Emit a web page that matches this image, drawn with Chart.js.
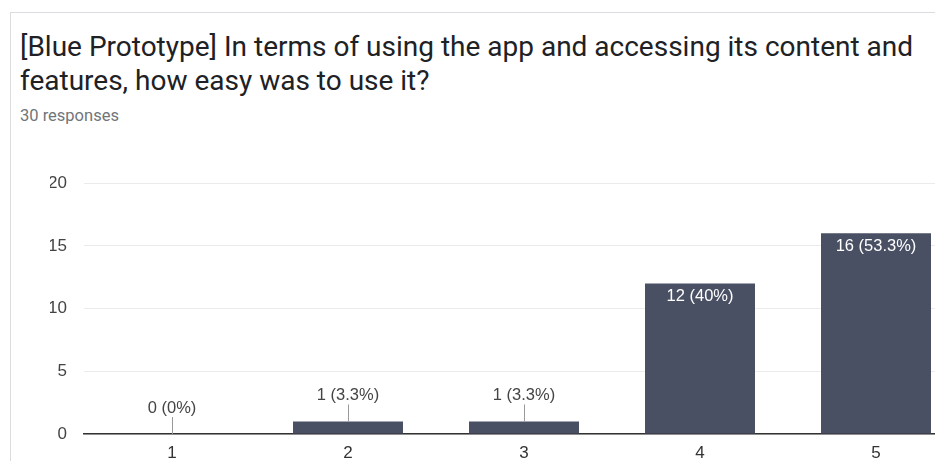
<!DOCTYPE html>
<html>
<head>
<meta charset="utf-8">
<script src="https://cdn.jsdelivr.net/npm/chart.js@4/dist/chart.umd.min.js"></script>
<style>
  html, body { margin: 0; padding: 0; width: 935px; height: 461px; overflow: hidden; background: #fff; }
  #card {
    position: absolute; left: 10px; top: 12px; width: 1000px; height: 500px;
    border-left: 1px solid #dadce0; border-top: 1px solid #dadce0; box-sizing: border-box;
  }
  #title {
    position: absolute; left: 20px; top: 30px; white-space: nowrap;
    font-family: Roboto, sans-serif; font-size: 28px; line-height: 33.5px; color: #202124;
  }
  #sub {
    position: absolute; left: 20px; top: 106px; line-height: normal;
    font-family: Roboto, sans-serif; font-size: 16.5px; color: #70757a;
  }
  #wrap { position: absolute; left: 0; top: 156px; }
</style>
</head>
<body>
<div id="card"></div>
<div id="title">[Blue Prototype] In terms of using the app and accessing its content and<br>features, how easy was to use it?</div>
<div id="sub">30 responses</div>
<div id="wrap"><canvas id="chart" width="975" height="308"></canvas></div>
<script>
var categories = ['1', '2', '3', '4', '5'];
var counts = [0, 1, 1, 12, 16];
var totalResponses = 30;
var yTicks = [0, 5, 10, 15, 20];

var barColor = '#4a5064';
var chartFont = '"Liberation Sans", Arial, sans-serif';

// count + percentage labels, inside tall bars, above short ones with a leader line
var valueLabels = {
  id: 'valueLabels',
  afterDatasetsDraw: function(chart)
  {
    var ctx = chart.ctx;
    var meta = chart.getDatasetMeta(0);
    ctx.save();
    ctx.font = '16.5px ' + chartFont;
    ctx.textAlign = 'center';
    ctx.textBaseline = 'middle';
    for (var i = 0; i < meta.data.length; i++)
    {
      var bar = meta.data[i];
      var v = counts[i];
      var p = Math.round(v * 1000 / totalResponses) / 10;
      var text = v + ' (' + p + '%)';
      var h = bar.base - bar.y;
      if (h > 30)
      {
        ctx.fillStyle = '#ffffff';
        ctx.fillText(text, bar.x, bar.y + 13);
      }
      else
      {
        ctx.strokeStyle = '#999';
        ctx.lineWidth = 1;
        ctx.beginPath();
        ctx.moveTo(Math.round(bar.x) + 0.5, bar.y);
        ctx.lineTo(Math.round(bar.x) + 0.5, bar.y - 17);
        ctx.stroke();
        ctx.fillStyle = '#444';
        ctx.fillText(text, bar.x, bar.y - 26);
      }
    }
    ctx.restore();
  }
};

new Chart(document.getElementById('chart'), {
  type: 'bar',
  data: {
    labels: categories,
    datasets: [{
      data: counts,
      backgroundColor: barColor,
      barPercentage: 0.625,
      categoryPercentage: 1
    }]
  },
  options: {
    responsive: false,
    animation: false,
    layout: { padding: { left: 50, right: 11, top: 24, bottom: 0 } },
    plugins: { legend: { display: false }, tooltip: { enabled: false } },
    scales: {
      x: {
        afterFit: function(axis) { axis.height = 30; },
        grid: { display: false, drawTicks: false },
        border: { color: '#333', width: 1.5 },
        ticks: { color: '#333', font: { family: chartFont, size: 17 }, padding: 9 }
      },
      y: {
        min: 0,
        max: 20,
        afterBuildTicks: function(axis) { axis.ticks = yTicks.map(function(t) { return { value: t }; }); },
        afterFit: function(axis) { axis.width = 34; },
        grid: { color: '#ebebeb', drawTicks: false },
        border: { display: false },
        ticks: { color: '#444', font: { family: chartFont, size: 17 }, padding: 17 }
      }
    }
  },
  plugins: [valueLabels]
});
</script>
</body>
</html>
